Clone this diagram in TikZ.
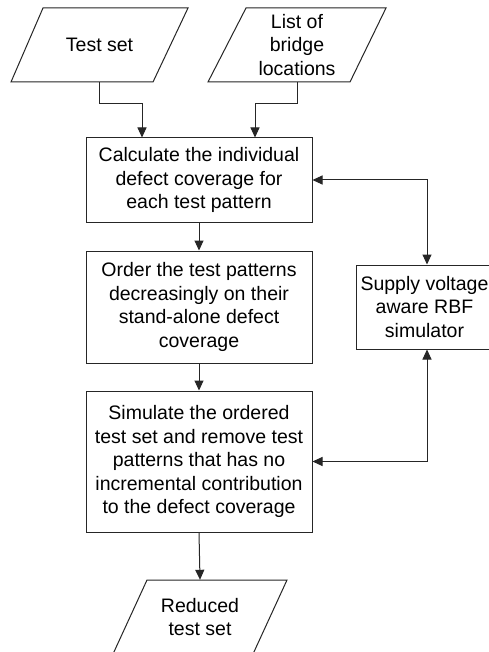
\documentclass[tikz,border=0pt]{standalone}
\usepackage{fontspec}
\setmainfont{Liberation Sans}
\usetikzlibrary{arrows.meta}
\begin{document}
\begin{tikzpicture}[x=1pt,y=-1pt,
  every node/.style={font=\fontsize{19.5}{23.5}\selectfont, align=center, inner sep=0pt},
  procbox/.style={draw=black!85, line width=1pt, fill=white, minimum width=226pt},
  iobox/.style={minimum width=140pt, minimum height=74pt},
  par/.style={draw=black!85, line width=1pt, fill=white, line join=miter},
  arr/.style={draw=black!85, line width=1pt, -{Triangle[length=10pt,width=9pt]}},
  arrboth/.style={draw=black!85, line width=1pt, {Triangle[length=10pt,width=9pt]}-{Triangle[length=10pt,width=9pt]}}]
\clip (0,0) rectangle (489,652);
\fill[white] (0,0) rectangle (489,652);
% input parallelograms
\node[iobox] (ts) at (99.5,45) {};
\draw[par] (43,8) -- (188,8) -- (153,82) -- (11,82) -- cycle;
\node at (ts) {Test set};
\node[iobox] (ls) at (297,45) {};
\draw[par] (246,8) -- (386,8) -- (350,82) -- (208,82) -- cycle;
\node at (ls) {List of\\bridge\\locations};
% process boxes
\node[procbox, minimum height=84pt] (b1) at (199,180)
  {Calculate the individual\\defect coverage for\\each test pattern};
\node[procbox, minimum height=112pt] (b2) at (199,307)
  {Order the test patterns\\decreasingly on their\\stand-alone defect\\coverage};
\node[procbox, minimum height=141pt] (b3) at (199,461.5)
  {Simulate the ordered\\test set and remove test\\patterns that has no\\incremental contribution\\to the defect coverage};
\node[procbox, minimum width=142pt, minimum height=84pt] (sup) at (427,307) {};
\node at (424.5,307) {Supply voltage\\aware RBF\\simulator};
% output parallelogram
\node[iobox] (rd) at (200,617) {};
\draw[par] (147,580) -- (287,580) -- (253,654) -- (113,654) -- cycle;
\node at (rd) {Reduced\\test set};
% connectors
\draw[arr] (ts.south) -- ++(0,21) -| ([xshift=-57]b1.north);
\draw[arr] (ls.south) -- ++(0,21) -| ([xshift=56]b1.north);
\draw[arr] (b1.south) -- (b2.north);
\draw[arr] (b2.south) -- (b3.north);
\draw[arr] (b3.south) -- (rd.north);
\draw[arrboth] (b1.east) -| (sup.north);
\draw[arrboth] (b3.east) -| (sup.south);
\end{tikzpicture}
\end{document}
